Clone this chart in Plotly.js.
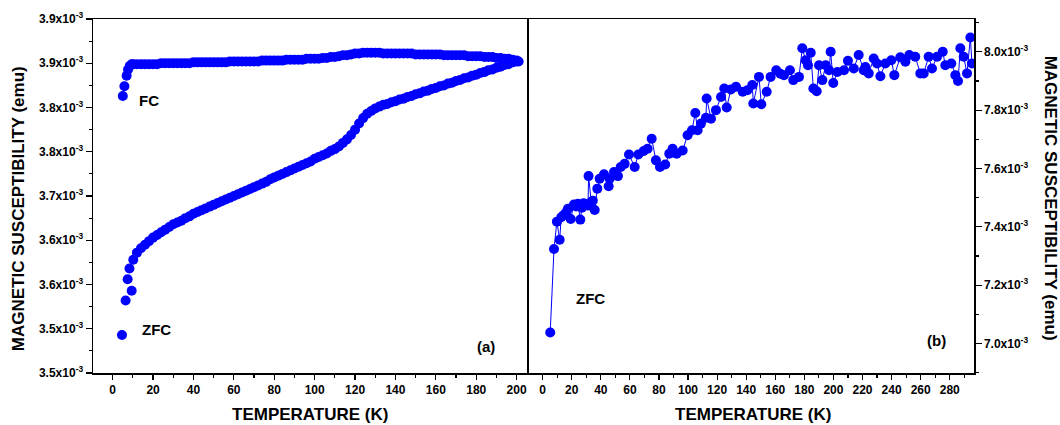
<!DOCTYPE html>
<html>
<head>
<meta charset="utf-8">
<script src="https://cdn.plot.ly/plotly-3.0.1.min.js"></script>
<style>
  html, body { margin: 0; padding: 0; background: #fff; }
  #chart { width: 1060px; height: 425px; }
</style>
</head>
<body>
<div id="chart"></div>
<script>
// Panel (a): ZFC / FC susceptibility, values in units of 10^-3 emu
const zfcTempA = [4.6, 6.4, 7.4, 8.3, 9.4, 10.2, 12, 14, 16, 18, 20, 22, 24, 26, 28, 30, 32, 34, 36, 38, 40,
  42, 44, 46, 48, 50, 52, 54, 56, 58, 60, 62, 64, 66, 68, 70, 72, 74, 76, 78, 80,
  82, 84, 86, 88, 90, 92, 94, 96, 98, 100, 102, 104, 106, 108, 110, 112, 114, 116, 118, 120,
  122, 124, 126, 128, 130, 132, 134, 136, 138, 140, 142, 144, 146, 148, 150, 152, 154, 156, 158, 160,
  162, 164, 166, 168, 170, 172, 174, 176, 178, 180, 182, 184, 186, 188, 190, 192, 194, 196, 198, 200];
const zfcChiA = [3.543, 3.582, 3.606, 3.618, 3.593, 3.628, 3.636, 3.641, 3.645, 3.649, 3.653, 3.656, 3.659, 3.662, 3.665, 3.668, 3.670, 3.672, 3.675, 3.677, 3.680,
  3.682, 3.684, 3.686, 3.688, 3.690, 3.692, 3.694, 3.696, 3.698, 3.700, 3.702, 3.704, 3.706, 3.708, 3.710, 3.712, 3.714, 3.716, 3.719, 3.721,
  3.723, 3.725, 3.727, 3.729, 3.731, 3.733, 3.735, 3.737, 3.739, 3.742, 3.744, 3.746, 3.748, 3.751, 3.753, 3.756, 3.760, 3.764, 3.769, 3.775,
  3.782, 3.788, 3.793, 3.796, 3.799, 3.801, 3.803, 3.804, 3.806, 3.807, 3.809, 3.810, 3.812, 3.813, 3.815, 3.816, 3.818, 3.819, 3.821, 3.822,
  3.824, 3.825, 3.827, 3.828, 3.830, 3.831, 3.833, 3.834, 3.836, 3.837, 3.839, 3.840, 3.842, 3.843, 3.845, 3.846, 3.848, 3.849, 3.851, 3.852];

const fcTempA = [5, 5.8, 6.9, 7.6, 8.5, 9.5, 10, 12, 14, 16, 18, 20, 22, 24, 26, 28, 30, 32, 34, 36, 38, 40,
  42, 44, 46, 48, 50, 52, 54, 56, 58, 60, 62, 64, 66, 68, 70, 72, 74, 76, 78, 80,
  82, 84, 86, 88, 90, 92, 94, 96, 98, 100, 102, 104, 106, 108, 110, 112, 114, 116, 118, 120,
  122, 124, 126, 128, 130, 132, 134, 136, 138, 140, 142, 144, 146, 148, 150, 152, 154, 156, 158, 160,
  162, 164, 166, 168, 170, 172, 174, 176, 178, 180, 182, 184, 186, 188, 190, 192, 194, 196, 198, 200, 201];
const fcChiA = [3.813, 3.824, 3.836, 3.843, 3.847, 3.849, 3.849, 3.849, 3.849, 3.849, 3.849, 3.849, 3.849, 3.850, 3.850, 3.850, 3.850, 3.850, 3.850, 3.850, 3.850, 3.851,
  3.851, 3.851, 3.851, 3.851, 3.851, 3.851, 3.851, 3.851, 3.852, 3.852, 3.852, 3.852, 3.852, 3.852, 3.852, 3.852, 3.853, 3.853, 3.853, 3.853,
  3.853, 3.853, 3.854, 3.854, 3.854, 3.854, 3.854, 3.855, 3.855, 3.855, 3.855, 3.856, 3.856, 3.857, 3.857, 3.858, 3.859, 3.859, 3.860, 3.861,
  3.861, 3.862, 3.862, 3.862, 3.862, 3.862, 3.861, 3.861, 3.861, 3.861, 3.861, 3.861, 3.861, 3.861, 3.860, 3.860, 3.860, 3.860, 3.860, 3.860,
  3.860, 3.859, 3.859, 3.859, 3.859, 3.859, 3.859, 3.858, 3.858, 3.858, 3.858, 3.857, 3.857, 3.857, 3.856, 3.856, 3.855, 3.855, 3.854, 3.853, 3.852];

// Panel (b): ZFC susceptibility, values in units of 10^-3 emu
const zfcTempB = [5.2, 7.8, 9.8, 11.7, 12.8, 14.5, 16.2, 17.4, 19.3, 21.5, 23, 24.3, 25.9, 27, 28.2, 30, 31.2, 31.6, 33.4, 34.5, 35.8,
  37.6, 39.2, 42.2, 45.4, 46.1, 49.1, 51.8, 53.7, 56.4, 59.4, 63.3, 65.8, 69.5, 72.2, 75.0, 77.9, 80.7, 84.3, 87.1, 89.4,
  92.2, 96.3, 99.7, 102.7, 105.0, 106.6, 108.9, 112.3, 112.8, 115.8, 119.2, 122.7, 124.9, 126.6, 129.5, 133.0, 137.6, 140.8, 144.2, 144.9,
  148.8, 150.4, 154.1, 156.8, 160.7, 163.5, 166.0, 170.1, 172.4, 176.3, 178.6, 180.9, 182.5, 184.4, 186.2, 188.5, 190.1, 192.4, 194.7, 197.0,
  198.1, 199.9, 202.7, 207.3, 210.0, 214.0, 217.4, 220.8, 222.0, 224.3, 227.7, 230.0, 232.3, 235.7, 239.8, 241.9, 246.0, 249.5, 252.2, 256.3,
  259.8, 262.1, 265.5, 267.8, 271.3, 275.2, 277.0, 281.1, 283.9, 285.7, 287.3, 289.6, 291.9, 294.2, 295.3];
const zfcChiB = [7.038, 7.324, 7.418, 7.356, 7.433, 7.441, 7.450, 7.462, 7.427, 7.477, 7.470, 7.479, 7.425, 7.466, 7.481, 7.478, 7.473, 7.574, 7.485, 7.490, 7.458,
  7.531, 7.565, 7.580, 7.539, 7.565, 7.588, 7.574, 7.605, 7.616, 7.648, 7.605, 7.648, 7.660, 7.668, 7.702, 7.628, 7.605, 7.614, 7.651, 7.668,
  7.651, 7.662, 7.714, 7.731, 7.790, 7.731, 7.754, 7.774, 7.840, 7.771, 7.800, 7.845, 7.874, 7.809, 7.871, 7.880, 7.863, 7.868, 7.886, 7.823,
  7.914, 7.820, 7.863, 7.914, 7.937, 7.925, 7.920, 7.937, 7.903, 7.914, 8.012, 7.971, 7.954, 7.997, 7.874, 7.865, 7.954, 7.903, 7.954, 7.937,
  8.000, 7.893, 7.931, 7.937, 7.969, 7.943, 7.989, 7.937, 7.948, 7.926, 7.977, 7.960, 7.916, 7.960, 7.971, 7.920, 7.981, 7.966, 7.989, 7.983,
  7.926, 7.926, 7.983, 7.943, 7.983, 8.000, 7.954, 7.960, 7.920, 7.900, 8.012, 7.983, 7.926, 8.049, 7.960];

// Axis ticks
const tempTicksA = [0, 20, 40, 60, 80, 100, 120, 140, 160, 180, 200];
const tempTicksB = [0, 20, 40, 60, 80, 100, 120, 140, 160, 180, 200, 220, 240, 260, 280];
const chiTickValsA = [3.50, 3.55, 3.60, 3.65, 3.70, 3.75, 3.80, 3.85, 3.90];
const chiTickTextA = ['3.5x10<sup>-3</sup>', '3.5x10<sup>-3</sup>', '3.6x10<sup>-3</sup>', '3.6x10<sup>-3</sup>',
  '3.7x10<sup>-3</sup>', '3.8x10<sup>-3</sup>', '3.8x10<sup>-3</sup>', '3.9x10<sup>-3</sup>', '3.9x10<sup>-3</sup>'];
const chiTickValsB = [7.0, 7.2, 7.4, 7.6, 7.8, 8.0];
const chiTickTextB = ['7.0x10<sup>-3</sup>', '7.2x10<sup>-3</sup>', '7.4x10<sup>-3</sup>',
  '7.6x10<sup>-3</sup>', '7.8x10<sup>-3</sup>', '8.0x10<sup>-3</sup>'];

const BLUE = '#0000ff';
const FONT = 'Arial, "Liberation Sans", sans-serif';
const RANGE_XA = [-9.75, 205];
const RANGE_XB = [-9.2, 296.7];

const traces = [
  { x: zfcTempA, y: zfcChiA, xaxis: 'x', yaxis: 'y', type: 'scatter', mode: 'markers',
    marker: { color: BLUE, size: 10 }, name: 'ZFC', hoverinfo: 'x+y' },
  { x: fcTempA, y: fcChiA, xaxis: 'x', yaxis: 'y', type: 'scatter', mode: 'markers',
    marker: { color: BLUE, size: 10 }, name: 'FC', hoverinfo: 'x+y' },
  { x: zfcTempB, y: zfcChiB, xaxis: 'x2', yaxis: 'y2', type: 'scatter', mode: 'lines+markers',
    line: { color: BLUE, width: 1 }, marker: { color: BLUE, size: 10 }, name: 'ZFC', hoverinfo: 'x+y' }
];

const axisCommon = {
  showline: true, linecolor: '#000', linewidth: 1.5, mirror: true,
  showgrid: false, zeroline: false, ticks: 'outside', ticklen: 6, tickwidth: 1.2, tickcolor: '#000',
  tickfont: { family: FONT, size: 12, color: '#000', weight: 'bold' }
};

const titleFont = { family: FONT, size: 17, weight: 'bold', color: '#000' };
const labelFont = { family: FONT, size: 15, weight: 'bold', color: '#000' };

const layout = {
  width: 1060, height: 425,
  margin: { l: 93, r: 86, t: 19, b: 52 },
  paper_bgcolor: '#fff', plot_bgcolor: '#fff',
  showlegend: false,
  font: { family: FONT, size: 12, color: '#000' },
  xaxis: Object.assign({}, axisCommon, {
    domain: [0, 0.4923], anchor: 'y', range: RANGE_XA,
    tickvals: tempTicksA, ticklen: 5,
    minor: { tick0: 0, dtick: 10, ticks: 'outside', ticklen: 3, tickcolor: '#000' }
  }),
  yaxis: Object.assign({}, axisCommon, {
    domain: [0, 1], anchor: 'x', range: [3.5, 3.9],
    tickvals: chiTickValsA, ticktext: chiTickTextA,
    minor: { tick0: 3.5, dtick: 0.025, ticks: 'outside', ticklen: 3, tickcolor: '#000' }
  }),
  xaxis2: Object.assign({}, axisCommon, {
    domain: [0.4952, 1], anchor: 'y2', range: RANGE_XB,
    tickvals: tempTicksB, ticklen: 5,
    minor: { tick0: 0, dtick: 10, ticks: 'outside', ticklen: 3, tickcolor: '#000' }
  }),
  yaxis2: Object.assign({}, axisCommon, {
    domain: [0, 1], anchor: 'x2', side: 'right', range: [6.8993, 8.1124],
    tickvals: chiTickValsB, ticktext: chiTickTextB,
    minor: { tick0: 7.0, dtick: 0.1, ticks: 'outside', ticklen: 3, tickcolor: '#000' }
  }),
  annotations: [
    { xref: 'paper', yref: 'paper', x: -0.0851, y: 0.4628, xanchor: 'center', yanchor: 'middle',
      textangle: -90, showarrow: false, text: 'MAGNETIC SUSCEPTIBILITY (emu)', font: titleFont },
    { xref: 'paper', yref: 'paper', x: 1.0863, y: 0.4953, xanchor: 'center', yanchor: 'middle',
      textangle: 90, showarrow: false, text: 'MAGNETIC SUSCEPTIBILITY (emu)', font: titleFont },
    { xref: 'paper', yref: 'paper', x: 0.2463, y: -0.1171, xanchor: 'center', yanchor: 'middle',
      showarrow: false, text: 'TEMPERATURE (K)', font: titleFont },
    { xref: 'paper', yref: 'paper', x: 0.749, y: -0.1171, xanchor: 'center', yanchor: 'middle',
      showarrow: false, text: 'TEMPERATURE (K)', font: titleFont },
    { xref: 'x', yref: 'y', x: 18.2, y: 3.808, xanchor: 'center', yanchor: 'middle',
      showarrow: false, text: 'FC', font: labelFont },
    { xref: 'x', yref: 'y', x: 21.8, y: 3.549, xanchor: 'center', yanchor: 'middle',
      showarrow: false, text: 'ZFC', font: labelFont },
    { xref: 'x', yref: 'y', x: 185, y: 3.530, xanchor: 'center', yanchor: 'middle',
      showarrow: false, text: '(a)', font: labelFont },
    { xref: 'x2', yref: 'y2', x: 32.8, y: 7.153, xanchor: 'center', yanchor: 'middle',
      showarrow: false, text: 'ZFC', font: labelFont },
    { xref: 'x2', yref: 'y2', x: 271, y: 7.009, xanchor: 'center', yanchor: 'middle',
      showarrow: false, text: '(b)', font: labelFont }
  ]
};

Plotly.newPlot('chart', traces, layout, { displayModeBar: false, staticPlot: true });
</script>
</body>
</html>
